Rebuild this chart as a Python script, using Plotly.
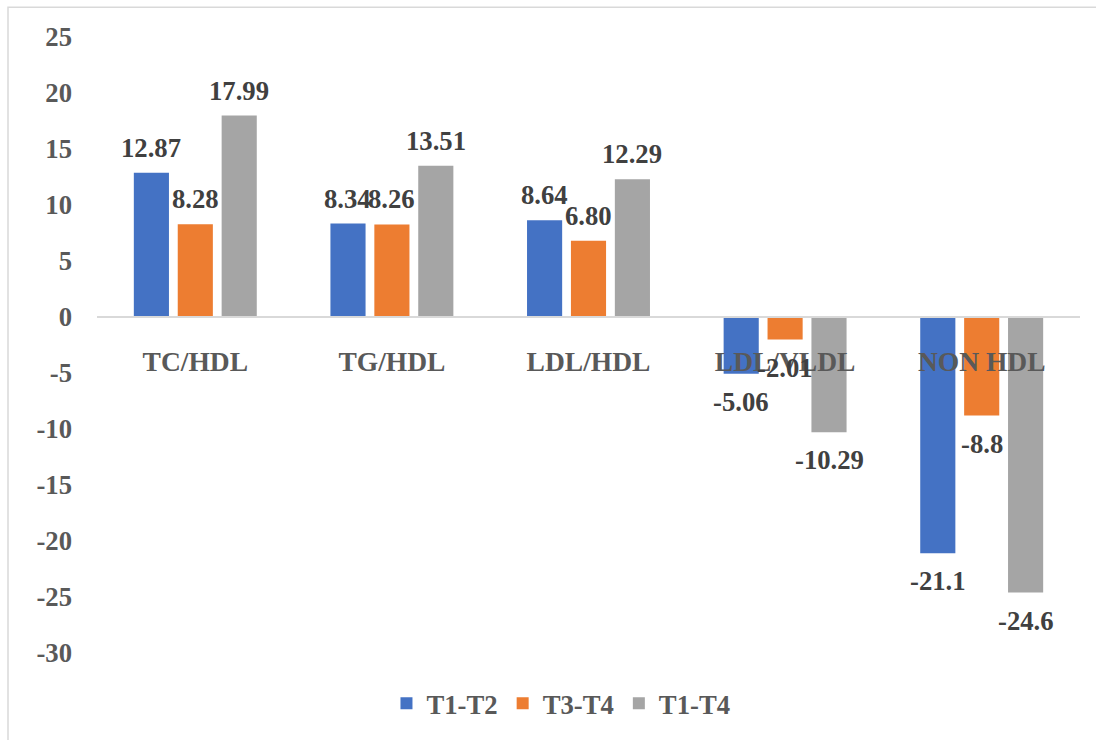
import plotly.graph_objects as go

categories = ["TC/HDL", "TG/HDL", "LDL/HDL", "LDL/VLDL", "NON HDL"]
series_names = ["T1-T2", "T3-T4", "T1-T4"]
t1_t2 = [12.87, 8.34, 8.64, -5.06, -21.1]
t3_t4 = [8.28, 8.26, 6.80, -2.01, -8.8]
t1_t4 = [17.99, 13.51, 12.29, -10.29, -24.6]
label_t1_t2 = ["12.87", "8.34", "8.64", "-5.06", "-21.1"]
label_t3_t4 = ["8.28", "8.26", "6.80", "-2.01", "-8.8"]
label_t1_t4 = ["17.99", "13.51", "12.29", "-10.29", "-24.6"]
y_ticks = [25, 20, 15, 10, 5, 0, -5, -10, -15, -20, -25, -30]
y_tick_text = ["25", "20", "15", "10", "5", "0", "-5", "-10", "-15", "-20", "-25", "-30"]

colors = ["#4472C4", "#ED7D31", "#A5A5A5"]
series = [t1_t2, t3_t4, t1_t4]
labels = [label_t1_t2, label_t3_t4, label_t1_t4]

W, H = 1096, 740
ML, MR, MT, MB = 97, 16, 37, 83
plot_w = W - ML - MR
plot_h = H - MT - MB
ymin, ymax = -30, 25
BARGAP = 0.33
FONT = "Liberation Serif"
FS = 26.7

fig = go.Figure()
for name, vals, col in zip(series_names, series, colors):
    fig.add_trace(go.Bar(x=categories, y=vals, name=name, marker_color=col,
                         marker_line_width=0))

cat_w = plot_w / len(categories)
slot = cat_w * (1 - BARGAP) / 3
annotations = []
for j, (vals, labs) in enumerate(zip(series, labels)):
    for c, v, t in zip(categories, vals, labs):
        annotations.append(dict(
            x=c, y=v, xref="x", yref="y", text=t, showarrow=False,
            xshift=(j - 1) * slot, yshift=25 if v >= 0 else -28,
            yanchor="middle", xanchor="center",
            font=dict(family=FONT, size=FS, color="#404040", weight="bold")))

# chart border (paper coords relative to plot area)
bx0 = (8 - ML) / plot_w
bx1 = (W + 20 - ML) / plot_w
by1 = (H - MB - 7) / plot_h
by0 = (H - MB - H - 20) / plot_h

fig.update_layout(
    width=W, height=H,
    margin=dict(l=ML, r=MR, t=MT, b=MB),
    paper_bgcolor="white", plot_bgcolor="white",
    barmode="group", bargap=BARGAP, bargroupgap=0.2,
    font=dict(family=FONT, size=FS, color="#595959", weight="bold"),
    xaxis=dict(anchor="free", position=(0 - ymin) / (ymax - ymin),
               showline=True, linecolor="#D9D9D9", linewidth=1.5,
               showgrid=False, ticks="", ticklabelstandoff=20,
               tickfont=dict(family=FONT, size=27.5, color="#595959", weight="bold")),
    yaxis=dict(range=[ymin, ymax], tickvals=y_ticks, ticktext=y_tick_text,
               showgrid=False, zeroline=False, showline=False, ticks="",
               ticklabelstandoff=24,
               tickfont=dict(family=FONT, size=FS, color="#595959", weight="bold")),
    legend=dict(orientation="h", x=0.472, xanchor="center", y=-0.082,
                yanchor="middle",
                font=dict(family=FONT, size=FS, color="#595959", weight="bold")),
    annotations=annotations,
    shapes=[dict(type="rect", xref="paper", yref="paper", x0=bx0, x1=bx1,
                 y0=by0, y1=by1, line=dict(color="#D9D9D9", width=1.5),
                 fillcolor="rgba(0,0,0,0)", layer="below")],
)

fig.write_html("out.html")
